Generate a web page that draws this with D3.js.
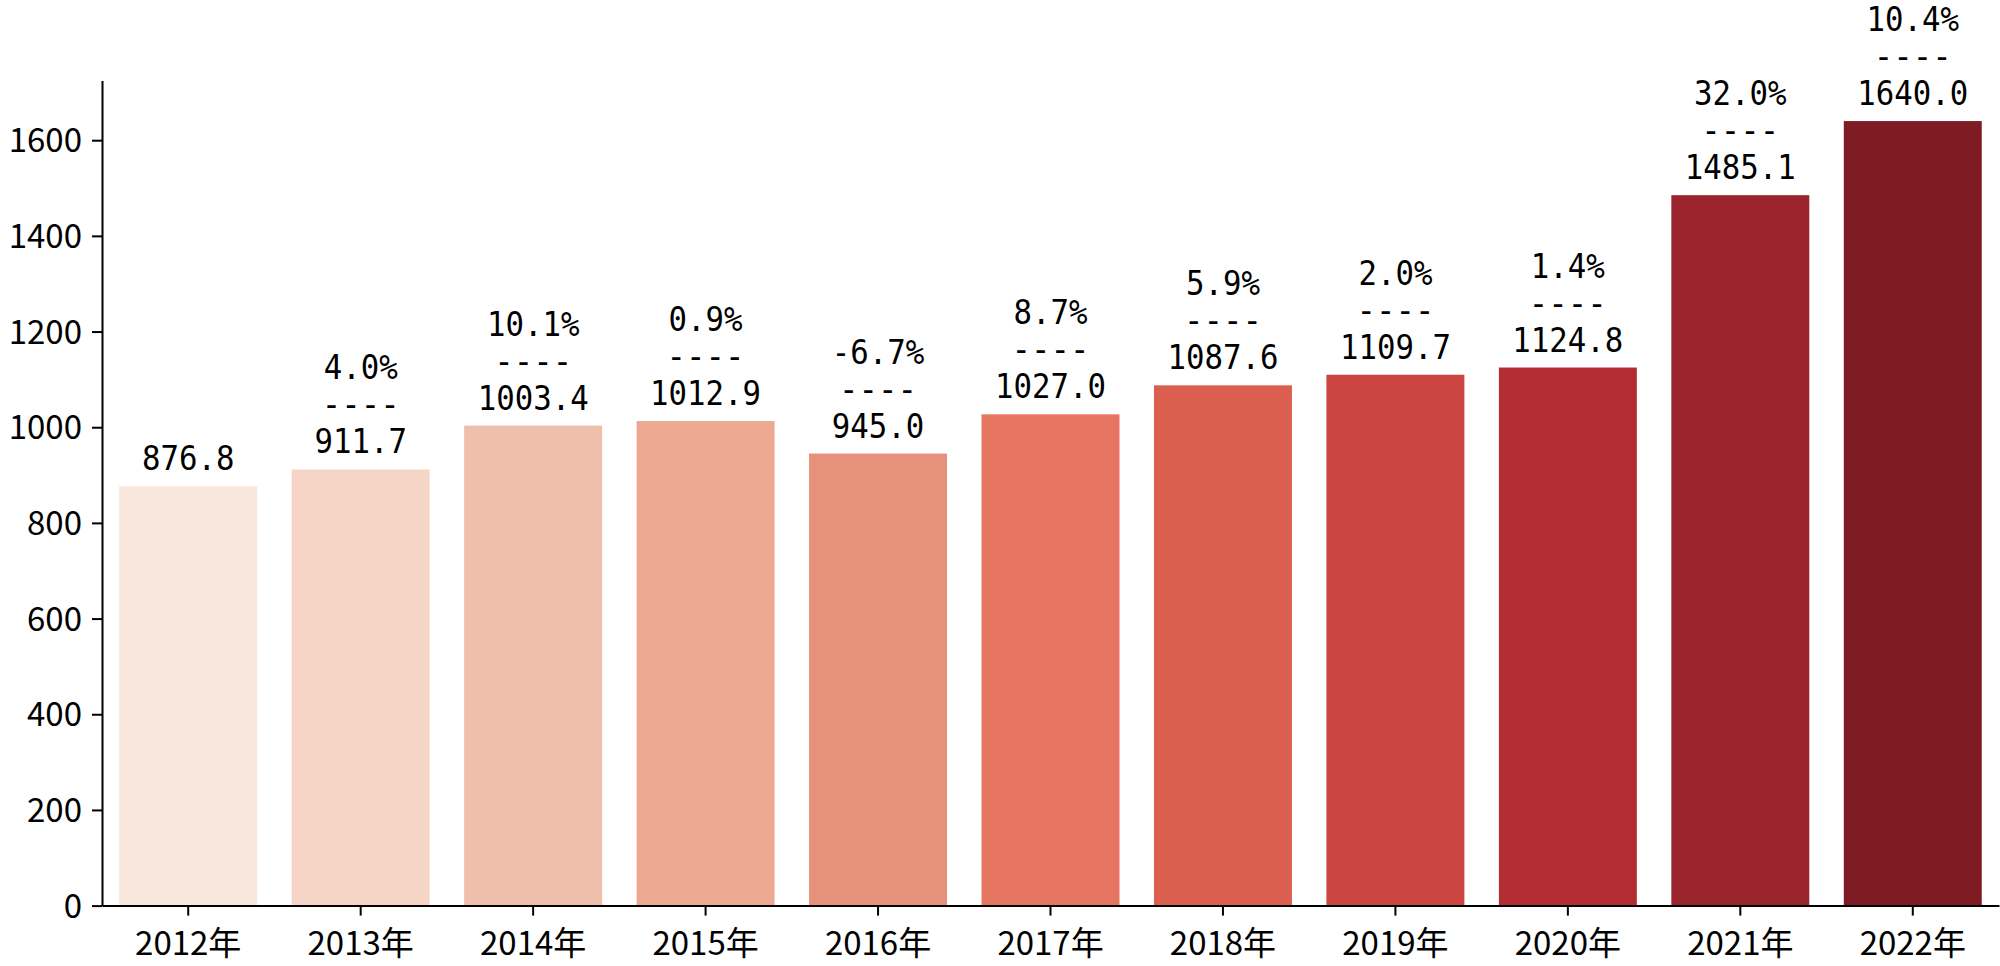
<!doctype html>
<html>
<head>
<meta charset="utf-8">
<title>bar chart</title>
<script src="https://d3js.org/d3.v7.min.js"></script>
<style>
  body { margin: 0; background: #fff; }
</style>
</head>
<body>
<script>
// data
var years = ["2012年", "2013年", "2014年", "2015年", "2016年", "2017年", "2018年", "2019年", "2020年", "2021年", "2022年"];
var values = [876.8, 911.7, 1003.4, 1012.9, 945.0, 1027.0, 1087.6, 1109.7, 1124.8, 1485.1, 1640.0];
var growth = [null, 4.0, 10.1, 0.9, -6.7, 8.7, 5.9, 2.0, 1.4, 32.0, 10.4];
var yTicks = [0, 200, 400, 600, 800, 1000, 1200, 1400, 1600];
var colors = ["#F9E6DD", "#F6D5C7", "#F0BFAB", "#EDA892", "#E6917A", "#E67561", "#DB5F4F", "#CB4540", "#B42D32", "#9B252C", "#7F1B23"];

var width = 2000, height = 966;
var mLeft = 102, mRight = 1999, mTop = 80.4, mBottom = 905.6;

var svg = d3.select("body").append("svg")
    .attr("width", width)
    .attr("height", height);

var x = d3.scaleBand()
    .domain(years)
    .range([mLeft, mRight])
    .paddingInner(0.2)
    .paddingOuter(0.1);

var y = d3.scaleLinear()
    .domain([0, 1725])
    .range([mBottom, mTop]);

// bars
svg.selectAll("rect.bar")
    .data(values)
    .enter()
    .append("rect")
    .attr("class", "bar")
    .attr("x", function(d, i) { return x(years[i]); })
    .attr("y", function(d) { return y(d); })
    .attr("width", x.bandwidth())
    .attr("height", function(d) { return y(0) - y(d); })
    .style("fill", function(d, i) { return colors[i]; });

// labels above bars: growth / ---- / value
var lineGap = 37;
var labels = svg.selectAll("g.lab")
    .data(values)
    .enter()
    .append("g")
    .attr("class", "lab")
    .attr("transform", function(d, i) {
        return "translate(" + (x(years[i]) + x.bandwidth() / 2) + "," + (y(d) - 16) + ")";
    })
    .style("font-family", "'DejaVu Sans Mono', monospace")
    .style("font-size", "34px")
    .style("fill", "#000")
    .attr("text-anchor", "middle");

labels.append("text")
    .attr("y", 0)
    .attr("textLength", function(d) { return d.toFixed(1).length * 18.5; })
    .attr("lengthAdjust", "spacingAndGlyphs")
    .text(function(d) { return d.toFixed(1); });

labels.each(function(d, i) {
    if (growth[i] === null) return;
    var g = d3.select(this);
    var s = growth[i].toFixed(1) + "%";
    g.append("text")
        .attr("y", -lineGap)
        .attr("textLength", 78)
        .attr("lengthAdjust", "spacingAndGlyphs")
        .text("----");
    g.append("text")
        .attr("y", -2 * lineGap)
        .attr("textLength", s.length * 18.5)
        .attr("lengthAdjust", "spacingAndGlyphs")
        .text(s);
});

// axes
var yAxis = d3.axisLeft(y)
    .tickValues(yTicks)
    .tickFormat(d3.format("d"))
    .tickSize(10)
    .tickPadding(10)
    .tickSizeOuter(0);

var xAxis = d3.axisBottom(x)
    .tickSize(10)
    .tickPadding(10)
    .tickSizeOuter(0);

var gy = svg.append("g")
    .attr("transform", "translate(" + mLeft + ",0)")
    .call(yAxis);

var gx = svg.append("g")
    .attr("transform", "translate(0," + mBottom + ")")
    .call(xAxis);

[gx, gy].forEach(function(g) {
    g.select(".domain").attr("stroke", "#000").attr("stroke-width", 2);
    g.selectAll(".tick line").attr("stroke", "#000").attr("stroke-width", 2);
    g.selectAll(".tick text")
        .style("font-family", "'Noto Sans CJK SC', 'Noto Sans', sans-serif")
        .style("font-size", "33px")
        .style("fill", "#000");
});
gx.selectAll(".tick text").attr("dy", "0.9em");
gy.selectAll(".tick text").attr("dy", "0.35em");
</script>
</body>
</html>
